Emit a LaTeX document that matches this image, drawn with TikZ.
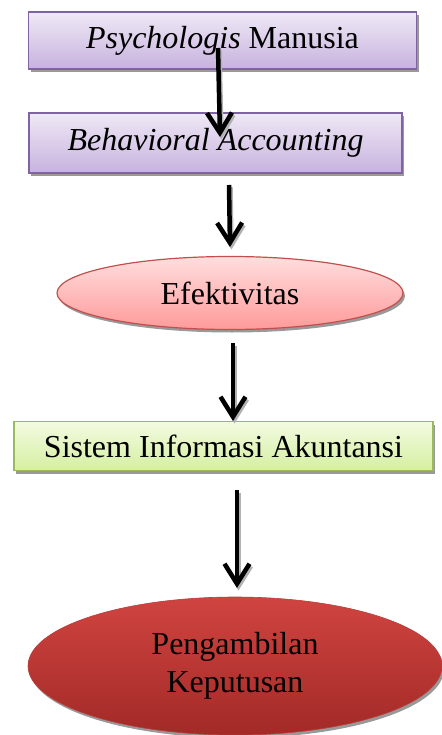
\documentclass[tikz,border=0pt]{standalone}
\usepackage{fontspec}
\setmainfont{Liberation Serif}
\usetikzlibrary{shapes.geometric,shadows,arrows.meta}
\definecolor{purpbord}{HTML}{8064A2}
\definecolor{purptop}{HTML}{EFE9F6}
\definecolor{purpbot}{HTML}{C7B2DE}
\definecolor{pinkbord}{HTML}{C0504D}
\definecolor{pinktop}{HTML}{FFDEDE}
\definecolor{pinkbot}{HTML}{FF9A9A}
\definecolor{grnbord}{HTML}{9BBB59}
\definecolor{grntop}{HTML}{F3FBE2}
\definecolor{grnbot}{HTML}{D5EFA0}
\definecolor{redtop}{HTML}{D04440}
\definecolor{redbot}{HTML}{A22A27}
\tikzset{
  x=1pt, y=-1pt,
  every node/.style={font=\fontsize{32}{38}\selectfont, inner sep=0pt, align=center},
  shad/.style={drop shadow={shadow xshift=2pt, shadow yshift=-3pt, fill=black!40, opacity=1}},
  purpbox/.style={rectangle, draw=purpbord, line width=1.2pt, top color=purptop, bottom color=purpbot, shad},
  pinkell/.style={ellipse, draw=pinkbord, line width=1.2pt, top color=pinktop, bottom color=pinkbot, shad},
  grnbox/.style={rectangle, draw=grnbord, line width=1.2pt, top color=grntop, bottom color=grnbot, shad},
  redell/.style={ellipse, draw=redtop!90!black, line width=0.6pt, top color=redtop, bottom color=redbot, shad},
  arr/.style={line width=4.5pt, -{Straight Barb[length=20pt, width=25pt, line width=4.5pt]},
    preaction={draw=black!30, line width=4.5pt, transform canvas={xshift=1.5pt, yshift=-2.5pt}, -{Straight Barb[length=20pt, width=25pt, line width=4.5pt]}}}
}
\begin{document}
\begin{tikzpicture}
\useasboundingbox (0,0) rectangle (441,735);
\node[purpbox, minimum width=388pt, minimum height=57pt] (b1) at (222.5,40.5) {\textit{Psychologis} Manusia};
\node[purpbox, minimum width=373pt, minimum height=60pt] (b2) at (215.5,143) {\textit{Behavioral Accounting}};
\node[pinkell, minimum width=346pt, minimum height=73pt] (e1) at (230,293) {Efektivitas};
\node[grnbox, minimum width=419pt, minimum height=49pt] (b3) at (223.5,446) {Sistem Informasi Akuntansi};
\node[redell, minimum width=414pt, minimum height=138pt] (e2) at (235,666) {Pengambilan\\Keputusan};
\coordinate (a1s) at (218,48);
\coordinate (a1e) at (220,137);
\coordinate (a2s) at (229,185);
\coordinate (a2e) at (230,247);
\coordinate (a3s) at (233,343);
\coordinate (a3e) at (233,421);
\coordinate (a4s) at (237,490);
\coordinate (a4e) at (237,588);
\draw[arr] (a1s) -- (a1e);
\draw[arr] (a2s) -- (a2e);
\draw[arr] (a3s) -- (a3e);
\draw[arr] (a4s) -- (a4e);
\end{tikzpicture}
\end{document}
